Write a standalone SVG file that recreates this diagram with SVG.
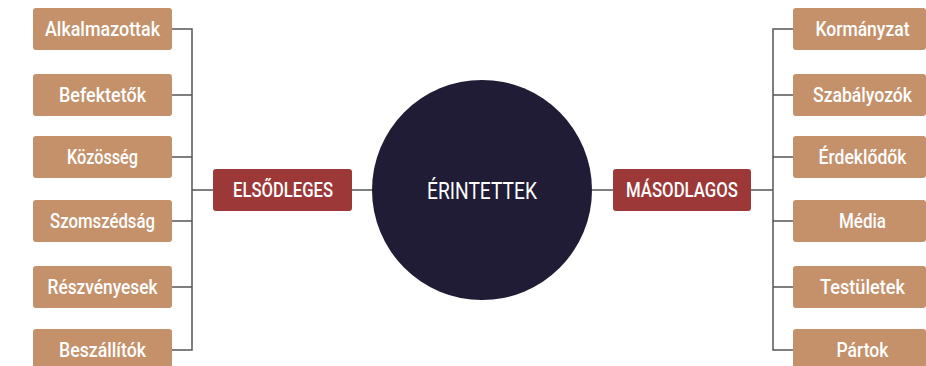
<svg xmlns="http://www.w3.org/2000/svg" width="926" height="366" viewBox="0 0 926 366">
<style>
.b{fill:#C4916B}
.r{fill:#9C3838}
.t{fill:#FFFFFF;font-family:Roboto,"Liberation Sans",sans-serif;font-size:21px;font-weight:500;text-anchor:middle}
.c{fill:none;stroke:#555555;stroke-width:1.5}
</style>
<rect width="926" height="366" fill="#FFFFFF"/>
<g id="connectors" class="c">
<path d="M172 29H192V350H172M172 95H192M172 157H192M172 221H192M172 287H192M192 190H213M352 190H373"/>
<path d="M793 29H773V350H793M793 95H773M793 157H773M793 221H773M793 287H773M773 190H751M592 190H613"/>
</g>
<g id="center"><circle cx="482" cy="190" r="110" fill="#201C35"/><text class="t" x="482" y="199" textLength="110" lengthAdjust="spacingAndGlyphs" style="font-size:24px;font-weight:400">ÉRINTETTEK</text></g>
<g id="elsodleges"><rect class="r" x="213" y="169" width="139" height="42" rx="3"/><text class="t" x="283" y="197" textLength="100" lengthAdjust="spacingAndGlyphs">ELSŐDLEGES</text></g>
<g id="masodlagos"><rect class="r" x="613" y="169" width="138" height="42" rx="3"/><text class="t" x="682" y="197" textLength="112" lengthAdjust="spacingAndGlyphs">MÁSODLAGOS</text></g>
<g id="alkalmazottak"><rect class="b" x="33" y="8" width="139" height="42" rx="3"/><text class="t" x="102.5" y="36" textLength="115" lengthAdjust="spacingAndGlyphs">Alkalmazottak</text></g>
<g id="befektetok"><rect class="b" x="33" y="74" width="139" height="42" rx="3"/><text class="t" x="102.5" y="102" textLength="87" lengthAdjust="spacingAndGlyphs">Befektetők</text></g>
<g id="kozosseg"><rect class="b" x="33" y="136" width="139" height="42" rx="3"/><text class="t" x="102.5" y="164" textLength="71" lengthAdjust="spacingAndGlyphs">Közösség</text></g>
<g id="szomszedsag"><rect class="b" x="33" y="200" width="139" height="42" rx="3"/><text class="t" x="102.5" y="228" textLength="105" lengthAdjust="spacingAndGlyphs">Szomszédság</text></g>
<g id="reszvenyesek"><rect class="b" x="33" y="266" width="139" height="42" rx="3"/><text class="t" x="102.5" y="294" textLength="110" lengthAdjust="spacingAndGlyphs">Részvényesek</text></g>
<g id="beszallitok"><rect class="b" x="33" y="329" width="139" height="42" rx="3"/><text class="t" x="102.5" y="357" textLength="87" lengthAdjust="spacingAndGlyphs">Beszállítók</text></g>
<g id="kormanyzat"><rect class="b" x="793" y="8" width="133" height="42" rx="3"/><text class="t" x="862.5" y="36" textLength="94" lengthAdjust="spacingAndGlyphs">Kormányzat</text></g>
<g id="szabalyozok"><rect class="b" x="793" y="74" width="133" height="42" rx="3"/><text class="t" x="862.5" y="102" textLength="99" lengthAdjust="spacingAndGlyphs">Szabályozók</text></g>
<g id="erdeklodok"><rect class="b" x="793" y="136" width="133" height="42" rx="3"/><text class="t" x="862.5" y="164" textLength="88" lengthAdjust="spacingAndGlyphs">Érdeklődők</text></g>
<g id="media"><rect class="b" x="793" y="200" width="133" height="42" rx="3"/><text class="t" x="862.5" y="228" textLength="47" lengthAdjust="spacingAndGlyphs">Média</text></g>
<g id="testuletek"><rect class="b" x="793" y="266" width="133" height="42" rx="3"/><text class="t" x="862.5" y="294" textLength="85" lengthAdjust="spacingAndGlyphs">Testületek</text></g>
<g id="partok"><rect class="b" x="793" y="329" width="133" height="42" rx="3"/><text class="t" x="862.5" y="357" textLength="52" lengthAdjust="spacingAndGlyphs">Pártok</text></g>
</svg>
